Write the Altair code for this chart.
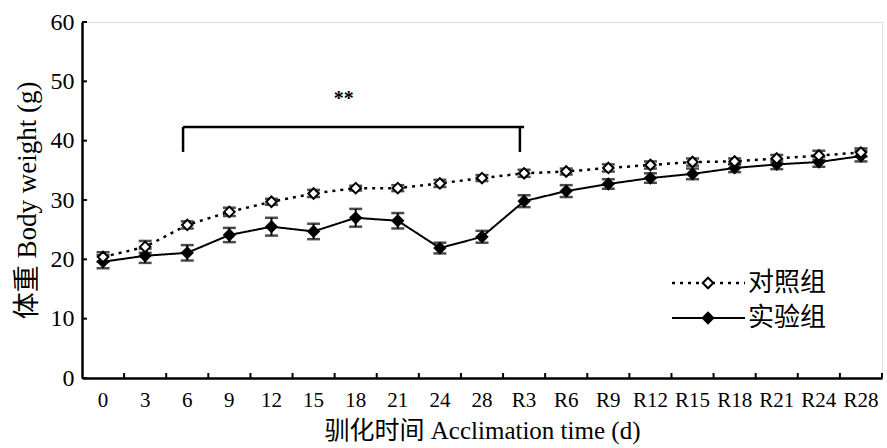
import altair as alt
import pandas as pd

categories = ["0", "3", "6", "9", "12", "15", "18", "21", "24", "28",
              "R3", "R6", "R9", "R12", "R15", "R18", "R21", "R24", "R28"]
control_mean = [20.4, 22.1, 25.8, 28.0, 29.7, 31.1, 32.0, 32.0, 32.8, 33.7,
                34.5, 34.8, 35.4, 35.9, 36.4, 36.5, 37.0, 37.5, 38.0]
control_err = [0.8, 1.0, 0.6, 0.7, 0.5, 0.6, 0.4, 0.5, 0.6, 0.5,
               0.6, 0.5, 0.6, 0.6, 0.6, 0.5, 0.6, 0.8, 0.7]
exp_mean = [19.6, 20.6, 21.1, 24.1, 25.5, 24.7, 27.0, 26.5, 21.9, 23.8,
            29.8, 31.5, 32.7, 33.7, 34.4, 35.4, 36.0, 36.4, 37.4]
exp_err = [1.1, 1.2, 1.3, 1.2, 1.5, 1.3, 1.5, 1.3, 0.9, 1.0,
           1.0, 1.0, 0.8, 0.8, 0.9, 0.7, 0.8, 0.8, 0.9]
y_ticks = [0, 10, 20, 30, 40, 50, 60]
bracket_start, bracket_end = "6", "R3"
bracket_top, bracket_bottom = 42.3, 38.1
star_cat, star_y, star_text = "18", 47.0, "**"
legend_labels = ["对照组", "实验组"]

W, H = 800, 356
FONT = "Liberation Serif, Noto Sans CJK SC"

def frame(mean, err):
    return pd.DataFrame({
        "cat": categories, "mean": mean,
        "lo": [m - e for m, e in zip(mean, err)],
        "hi": [m + e for m, e in zip(mean, err)],
    })

ctrl = frame(control_mean, control_err)
expd = frame(exp_mean, exp_err)

xscale = alt.Scale(domain=categories, paddingInner=0, paddingOuter=0)
yscale = alt.Scale(domain=[0, 60])
X = alt.X("cat:N", scale=xscale, sort=categories,
          axis=alt.Axis(title="驯化时间 Acclimation time (d)", labelAngle=0,
                        ticks=False, domainWidth=2.5, domainColor="black",
                        labelFont=FONT, labelFontSize=21, labelColor="black",
                        labelPadding=11, titleFont=FONT, titleFontSize=25,
                        titleFontWeight="normal", titleColor="black",
                        titlePadding=8))
Y = alt.Y("mean:Q", scale=yscale,
          axis=alt.Axis(title="体重 Body weight (g)", values=y_ticks, grid=False,
                        ticks=False, domainWidth=2.5, domainColor="black",
                        labelFont=FONT, labelFontSize=24, labelColor="black",
                        labelPadding=8, titleFont=FONT, titleFontSize=27,
                        titleFontWeight="normal", titleColor="black",
                        titlePadding=9))

def series(df, dash, filled, sw):
    base = alt.Chart(df)
    xe = alt.X("cat:N", scale=xscale, sort=categories)
    line = base.mark_line(color="black", strokeWidth=sw, strokeDash=dash).encode(x=X, y=Y)
    bar = base.mark_rule(color="black", strokeWidth=2).encode(
        x=xe, y=alt.Y("lo:Q", scale=yscale), y2="hi:Q")
    cap_lo = base.mark_tick(color="black", thickness=2.5, size=13, orient="horizontal").encode(
        x=xe, y=alt.Y("lo:Q", scale=yscale))
    cap_hi = base.mark_tick(color="black", thickness=2.5, size=13, orient="horizontal").encode(
        x=xe, y=alt.Y("hi:Q", scale=yscale))
    pt = base.mark_point(shape="diamond", size=110, filled=True,
                         fill="black" if filled else "white",
                         stroke="black", strokeWidth=2, opacity=1).encode(
        x=xe, y=alt.Y("mean:Q", scale=yscale))
    return [line, bar, cap_lo, cap_hi, pt]

layers = []
layers += series(expd, [1, 0], True, 2)
layers += series(ctrl, [3, 5], False, 2.5)

# inward ticks
ytk = alt.Chart(pd.DataFrame({"v": y_ticks})).mark_rule(color="black", strokeWidth=2).encode(
    y=alt.Y("v:Q", scale=yscale), x=alt.value(0), x2=alt.value(5))
xtk = alt.Chart(pd.DataFrame({"cat": categories[1:]})).mark_rule(color="black", strokeWidth=2).encode(
    x=alt.X("cat:N", scale=xscale, sort=categories, bandPosition=0),
    y=alt.value(H), y2=alt.value(H - 5))
xend = alt.Chart(pd.DataFrame({"cat": categories[-1:]})).mark_rule(color="black", strokeWidth=2).encode(
    x=alt.X("cat:N", scale=xscale, sort=categories, bandPosition=1),
    y=alt.value(H), y2=alt.value(H - 5))

# bracket
br_h = alt.Chart(pd.DataFrame({"a": [bracket_start], "b": [bracket_end], "v": [bracket_top]})).mark_rule(
    color="black", strokeWidth=2.5).encode(
    x=alt.X("a:N", scale=xscale, sort=categories, bandPosition=0.4), x2="b:N",
    y=alt.Y("v:Q", scale=yscale))
br_v = alt.Chart(pd.DataFrame({"cat": [bracket_start, bracket_end],
                               "t": [bracket_top] * 2, "b": [bracket_bottom] * 2})).mark_rule(
    color="black", strokeWidth=2.5).encode(
    x=alt.X("cat:N", scale=xscale, sort=categories, bandPosition=0.4),
    y=alt.Y("t:Q", scale=yscale), y2="b:Q")
star = alt.Chart(pd.DataFrame({"cat": [star_cat], "v": [star_y], "s": [star_text]})).mark_text(
    font=FONT, fontSize=20, fontWeight="bold", color="black", dx=-12).encode(
    x=alt.X("cat:N", scale=xscale, sort=categories), y=alt.Y("v:Q", scale=yscale), text="s:N")

# legend
def leg(label, ypix, dash, filled, sw):
    d = pd.DataFrame({"t": [label]})
    ln = alt.Chart(d).mark_rule(color="black", strokeWidth=sw, strokeDash=dash).encode(
        x=alt.value(590), x2=alt.value(663), y=alt.value(ypix))
    pt = alt.Chart(d).mark_point(shape="diamond", size=110, filled=True,
                                 fill="black" if filled else "white", stroke="black",
                                 strokeWidth=2, opacity=1).encode(
        x=alt.value(626), y=alt.value(ypix))
    tx = alt.Chart(d).mark_text(font=FONT, fontSize=26, align="left", baseline="middle",
                                color="black").encode(
        x=alt.value(666), y=alt.value(ypix), text="t:N")
    return [ln, pt, tx]

layers += [ytk, xtk, xend, br_h, br_v, star]
layers += leg(legend_labels[0], 261, [3, 5], False, 2.5)
layers += leg(legend_labels[1], 296, [1, 0], True, 2)

chart = alt.layer(*layers).properties(
    width=W, height=H,
    autosize=alt.AutoSizeParams(type="none"),
    padding={"left": 82, "top": 22, "right": 5, "bottom": 70},
).configure_view(stroke=None).configure(background="white")

chart.save("out.html", embed_options={"renderer": "svg", "actions": False})
